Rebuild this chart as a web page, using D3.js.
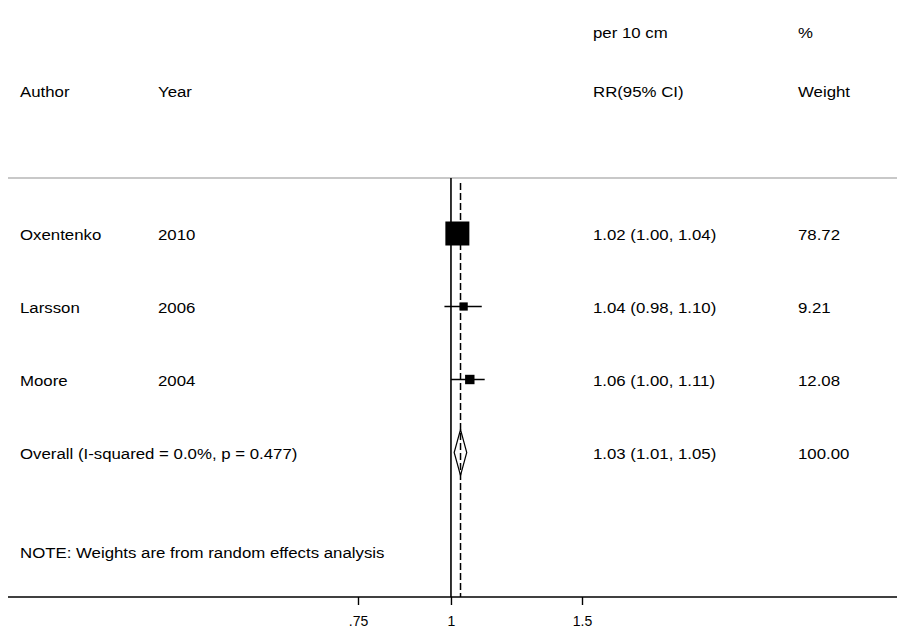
<!DOCTYPE html>
<html>
<head>
<meta charset="utf-8">
<script src="https://cdn.jsdelivr.net/npm/d3@7"></script>
<style>
  html, body { margin: 0; padding: 0; background: #fff; }
  svg text { font-family: "Liberation Sans", Arial, sans-serif; font-size: 14px; fill: #000; }
</style>
</head>
<body>
<svg id="chart" width="898" height="637"></svg>
<script>
// Study-level estimates (relative risk per 10 cm, 95% CI, random-effects weights)
const authors = ["Oxentenko", "Larsson", "Moore"];
const years = ["2010", "2006", "2004"];
const rr = [1.02, 1.04, 1.06];
const ciLow = [1.00, 0.98, 1.00];
const ciHigh = [1.04, 1.10, 1.11];
const weights = [78.72, 9.21, 12.08];

// Pooled estimate
const overallLabel = "Overall  (I-squared = 0.0%, p = 0.477)";
const overallRR = 1.03;
const overallLow = 1.01;
const overallHigh = 1.05;
const overallWeight = 100.00;

// Axis ticks
const tickValues = [0.75, 1, 1.5];
const tickLabels = [".75", "1", "1.5"];

const noteText = "NOTE: Weights are from random effects analysis";

const svg = d3.select("#chart");
const stretch = 1.2;   // widen glyphs slightly for the report font look

// Log-scaled RR axis
const x = d3.scaleLog().domain([0.75, 1.5]).range([358, 582]);

// Row positions: three studies then the pooled row
const rowKeys = [0, 1, 2, 3];
const y = d3.scalePoint().domain(rowKeys).range([233.5, 452.5]);

const col = { author: 20, year: 158, est: 593, weight: 798 };
const axisY = 597;
const topRuleY = 178;

function label(xp, yp, txt, anchor) {
  const t = svg.append("text")
    .attr("x", xp).attr("y", yp)
    .attr("dominant-baseline", "central")
    .attr("text-anchor", anchor || "start")
    .text(txt);
  const len = t.node().getComputedTextLength();
  t.attr("textLength", len * stretch).attr("lengthAdjust", "spacingAndGlyphs");
  return t;
}

const fmt = v => v.toFixed(2);

// Column headers
label(col.est, 33, "per 10 cm");
label(col.weight, 33, "%");
label(col.author, 92, "Author");
label(col.year, 92, "Year");
label(col.est, 92, "RR(95% CI)");
label(col.weight, 92, "Weight");

// Light rule under the header
svg.append("line")
  .attr("x1", 8).attr("x2", 897)
  .attr("y1", topRuleY).attr("y2", topRuleY)
  .attr("stroke", "#c8c8c8").attr("stroke-width", 2);

// Null line at RR = 1
svg.append("line")
  .attr("x1", x(1)).attr("x2", x(1))
  .attr("y1", topRuleY).attr("y2", axisY)
  .attr("stroke", "#000").attr("stroke-width", 1.6);

// Dashed line at the pooled estimate
svg.append("line")
  .attr("x1", x(overallRR)).attr("x2", x(overallRR))
  .attr("y1", 183).attr("y2", axisY)
  .attr("stroke", "#000").attr("stroke-width", 1.5)
  .attr("stroke-dasharray", "7,3");

// Study rows
const maxW = d3.max(weights);
const boxSize = d3.scaleSqrt().domain([0, maxW]).range([0, 24]);

authors.forEach((a, i) => {
  const yy = y(i);
  label(col.author, yy + 1.5, a);
  label(col.year, yy + 1.5, years[i]);
  label(col.est, yy + 1.5, `${fmt(rr[i])} (${fmt(ciLow[i])}, ${fmt(ciHigh[i])})`);
  label(col.weight, yy + 1.5, fmt(weights[i]));

  svg.append("line")
    .attr("x1", x(ciLow[i])).attr("x2", x(ciHigh[i]))
    .attr("y1", yy).attr("y2", yy)
    .attr("stroke", "#000").attr("stroke-width", 1.4);

  const s = boxSize(weights[i]);
  svg.append("rect")
    .attr("x", x(rr[i]) - s / 2).attr("y", yy - s / 2)
    .attr("width", s).attr("height", s)
    .attr("fill", "#000");
});

// Pooled row
const yo = y(3);
label(col.author, yo + 1.5, overallLabel);
label(col.est, yo + 1.5, `${fmt(overallRR)} (${fmt(overallLow)}, ${fmt(overallHigh)})`);
label(col.weight, yo + 1.5, fmt(overallWeight));

const dh = 23;
svg.append("path")
  .attr("d", `M${x(overallLow)},${yo} L${x(overallRR)},${yo - dh} L${x(overallHigh)},${yo} L${x(overallRR)},${yo + dh} Z`)
  .attr("fill", "none").attr("stroke", "#000").attr("stroke-width", 1.2);

// Note
label(col.author, 553, noteText);

// Bottom axis
svg.append("line")
  .attr("x1", 8).attr("x2", 897)
  .attr("y1", axisY).attr("y2", axisY)
  .attr("stroke", "#000").attr("stroke-width", 1.6);

const axis = d3.axisBottom(x)
  .tickValues(tickValues)
  .tickFormat((d, i) => tickLabels[i])
  .tickSize(8)
  .tickPadding(11);

const gAxis = svg.append("g")
  .attr("transform", `translate(0,${axisY})`)
  .call(axis);
gAxis.select(".domain").remove();
gAxis.selectAll(".tick line").attr("stroke", "#000").attr("stroke-width", 1.4);
gAxis.selectAll(".tick text")
  .style("font-family", "'Liberation Sans', Arial, sans-serif")
  .style("font-size", "14px")
  .style("fill", "#000");
</script>
</body>
</html>
